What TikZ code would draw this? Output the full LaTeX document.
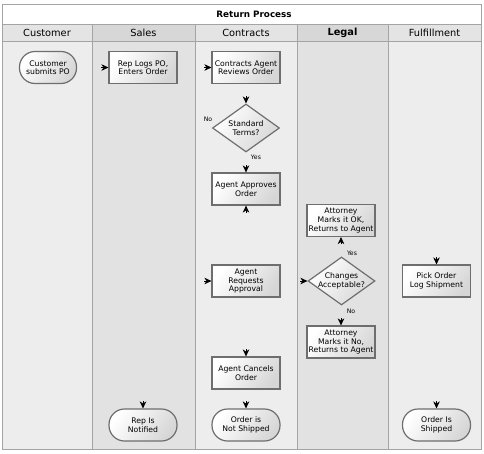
\documentclass[tikz,border=0pt]{standalone}
\usepackage{fontspec}
\setmainfont{DejaVu Sans}
\usepackage{tikz}
\usetikzlibrary{arrows.meta, shapes.geometric, positioning}
\definecolor{lanelight}{HTML}{EDEDED}
\definecolor{lanedark}{HTML}{E2E2E2}
\definecolor{headlight}{HTML}{E4E4E4}
\definecolor{headdark}{HTML}{D7D7D7}
\definecolor{laneline}{HTML}{A4A4A4}
\definecolor{boxline}{HTML}{6E6E6E}
\tikzset{
  lane/.style={draw=laneline, line width=0.8pt},
  lanehead/.style={lane, minimum height=17pt, inner sep=0pt, font=\fontsize{9.8}{11}\selectfont},
  task/.style={draw=boxline, line width=1.2pt, top color=white, bottom color=black!16, shading angle=55,
    minimum width=68pt, minimum height=32pt, inner sep=0pt, align=center, font=\fontsize{7.7}{8.6}\selectfont},
  terminal/.style={task, rounded corners=15.5pt},
  decision/.style={task, diamond, inner sep=-6pt, minimum width=67pt, minimum height=48pt},
  branch/.style={inner sep=0pt, font=\fontsize{6.2}{7}\selectfont},
  tip/.style={-{Stealth[length=7pt,width=6.5pt,inset=2.2pt]}, line width=0.6pt},
}

\begin{document}
\begin{tikzpicture}[x=1pt, y=-1pt]
	\useasboundingbox[fill=white] (0,0) rectangle (484,453);
	% title row
	\draw[lane, fill=white] (2,4.5) rectangle (481,24);
	\node[inner sep=0pt, font=\bfseries\fontsize{8.8}{10}\selectfont] (title) at (254,14.5) {Return Process};
	% lanes
	\draw[lane, fill=lanelight] (2,41) rectangle (92,449);
	\draw[lane, fill=lanedark] (92,41) rectangle (195,449);
	\draw[lane, fill=lanelight] (195,41) rectangle (297,449);
	\draw[lane, fill=lanedark] (297,41) rectangle (388,449);
	\draw[lane, fill=lanelight] (388,41) rectangle (481,449);
	\node[lanehead, fill=headlight, minimum width=90pt] (hcust) at (47,32.5) {Customer};
	\node[lanehead, fill=headdark, minimum width=103pt] (hsales) at (143.5,32.5) {Sales};
	\node[lanehead, fill=headlight, minimum width=102pt] (hcontr) at (246,32.5) {Contracts};
	\node[lanehead, fill=headdark, minimum width=91pt, font=\bfseries\fontsize{9.8}{11}\selectfont] (hlegal) at (342.5,32.5) {Legal};
	\node[lanehead, fill=headlight, minimum width=93pt] (hfulfil) at (434.5,32.5) {Fulfillment};

	% steps
	\node[terminal, minimum width=57pt] (submit) at (48,67.5) {Customer\\submits PO};
	\node[task] (logpo) at (143,67.5) {Rep Logs PO,\\Enters Order};
	\node[task] (review) at (246,67.5) {Contracts Agent\\Reviews Order};
	\node[decision] (terms) at (246,128) {Standard\\Terms?};
	\node[task] (approve) at (246,189) {Agent Approves\\Order};
	\node[task] (request) at (246,281) {Agent\\Requests\\Approval};
	\node[task] (cancel) at (246,373) {Agent Cancels\\Order};
	\node[terminal] (notship) at (246,425) {Order is\\Not Shipped};
	\node[terminal] (notified) at (143,425) {Rep Is\\Notified};
	\node[task] (markok) at (341,220.5) {Attorney\\Marks it OK,\\Returns to Agent};
	\node[decision] (changes) at (341.5,281) {Changes\\Acceptable?};
	\node[task] (markno) at (341,342) {Attorney\\Marks it No,\\Returns to Agent};
	\node[task] (pick) at (436.5,281) {Pick Order\\Log Shipment};
	\node[terminal] (shipped) at (436.5,425) {Order Is\\Shipped};

	% branch labels
	\node[branch] (termsno) at (208,119) {No};
	\node[branch] (termsyes) at (256,157) {Yes};
	\node[branch] (changesyes) at (352,253) {Yes};
	\node[branch] (changesno) at (351,311) {No};

	% arrow tips
	\coordinate[left=7pt of logpo] (logpoin);
	\coordinate[left=7pt of review] (reviewin);
	\coordinate[above=7pt of terms] (termsin);
	\coordinate[above=7pt of approve] (approvein);
	\coordinate[below=7pt of approve] (approveback);
	\coordinate[left=7pt of request] (requestin);
	\coordinate[above=7pt of cancel] (cancelin);
	\coordinate[above=7pt of notship] (notshipin);
	\coordinate[above=7pt of notified] (notifiedin);
	\coordinate[below=7pt of markok] (markokin);
	\coordinate[left=7pt of changes] (changesin);
	\coordinate[above=7pt of markno] (marknoin);
	\coordinate[above=7pt of pick] (pickin);
	\coordinate[above=7pt of shipped] (shippedin);
	\draw[tip] (logpoin) -- (logpo);
	\draw[tip] (reviewin) -- (review);
	\draw[tip] (termsin) -- (terms);
	\draw[tip] (approvein) -- (approve);
	\draw[tip] (approveback) -- (approve);
	\draw[tip] (requestin) -- (request);
	\draw[tip] (cancelin) -- (cancel);
	\draw[tip] (notshipin) -- (notship);
	\draw[tip] (notifiedin) -- (notified);
	\draw[tip] (markokin) -- (markok);
	\draw[tip] (changesin) -- (changes);
	\draw[tip] (marknoin) -- (markno);
	\draw[tip] (pickin) -- (pick);
	\draw[tip] (shippedin) -- (shipped);
\end{tikzpicture}
\end{document}
